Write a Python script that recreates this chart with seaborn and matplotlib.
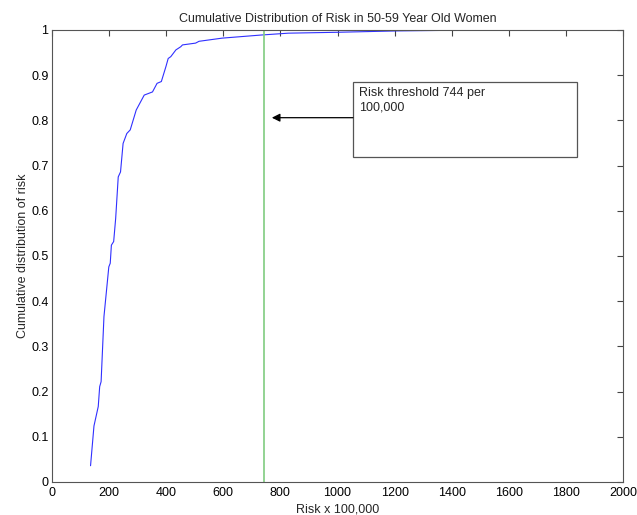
import matplotlib
matplotlib.use("Agg")
import matplotlib.pyplot as plt
import seaborn as sns
import pandas as pd
from matplotlib.patches import Rectangle

sns.set_style("white")
plt.rcParams['font.family'] = ['Liberation Sans', 'DejaVu Sans']

risk = [135, 147, 162, 167, 172, 182, 199, 204, 208, 216, 223, 227, 232, 240, 249,
        262, 274, 295, 323, 352, 368, 383, 399, 407, 416, 434, 451, 457, 503, 515,
        596, 735, 828, 1002, 1210, 1500]
cdf = [0.036, 0.124, 0.167, 0.211, 0.222, 0.366, 0.476, 0.484, 0.524, 0.532, 0.583,
       0.624, 0.675, 0.686, 0.749, 0.771, 0.779, 0.823, 0.856, 0.863, 0.882, 0.886,
       0.919, 0.937, 0.941, 0.956, 0.963, 0.967, 0.971, 0.975, 0.982, 0.989, 0.993,
       0.995, 0.998, 1.0]
threshold = 744
note = "Risk threshold 744 per\n100,000"
xticks = list(range(0, 2001, 200))
yticks = [0, 0.1, 0.2, 0.3, 0.4, 0.5, 0.6, 0.7, 0.8, 0.9, 1]

df = pd.DataFrame({"risk": risk, "cdf": cdf})

fs = 9
fig = plt.figure(figsize=(6.37, 5.15), dpi=100)
ax = fig.add_axes([52 / 637, 33 / 515, 571 / 637, 452 / 515])
sns.lineplot(data=df, x="risk", y="cdf", ax=ax, color="#3030ff", linewidth=0.8,
             estimator=None, sort=False)
ax.axvline(threshold, color="#80cc80", linewidth=1.2)

ax.set_xlim(0, 2000)
ax.set_ylim(0, 1)
ax.set_xticks(xticks)
ax.set_xticklabels([str(t) for t in xticks])
ax.set_yticks(yticks)
ax.set_yticklabels(["0", "0.1", "0.2", "0.3", "0.4", "0.5", "0.6", "0.7", "0.8", "0.9", "1"])
ax.tick_params(direction="in", length=4, width=0.8, top=True, right=True,
               labelsize=fs, colors="#444444", labelcolor="black", pad=2.5)
ax.tick_params(axis="x", pad=3.5)
for s in ax.spines.values():
    s.set_color("#555555")
    s.set_linewidth(0.8)

ax.set_title("Cumulative Distribution of Risk in 50-59 Year Old Women", fontsize=fs, pad=6)
ax.set_xlabel("Risk x 100,000", fontsize=fs, labelpad=3)
ax.set_ylabel("Cumulative distribution of risk", fontsize=fs, labelpad=1.5)

ax.add_patch(Rectangle((1054, 0.72), 785, 0.166, fill=False, edgecolor="#555555",
                       linewidth=0.9, zorder=3))
ax.text(1075, 0.873, note, fontsize=fs, va="top", ha="left", linespacing=1.25)
ax.annotate("", xy=(770, 0.806), xytext=(1054, 0.806),
            arrowprops=dict(arrowstyle="-|>", color="black", lw=0.9,
                            mutation_scale=12, shrinkA=0, shrinkB=0))

fig.savefig("out.png", dpi=100)
